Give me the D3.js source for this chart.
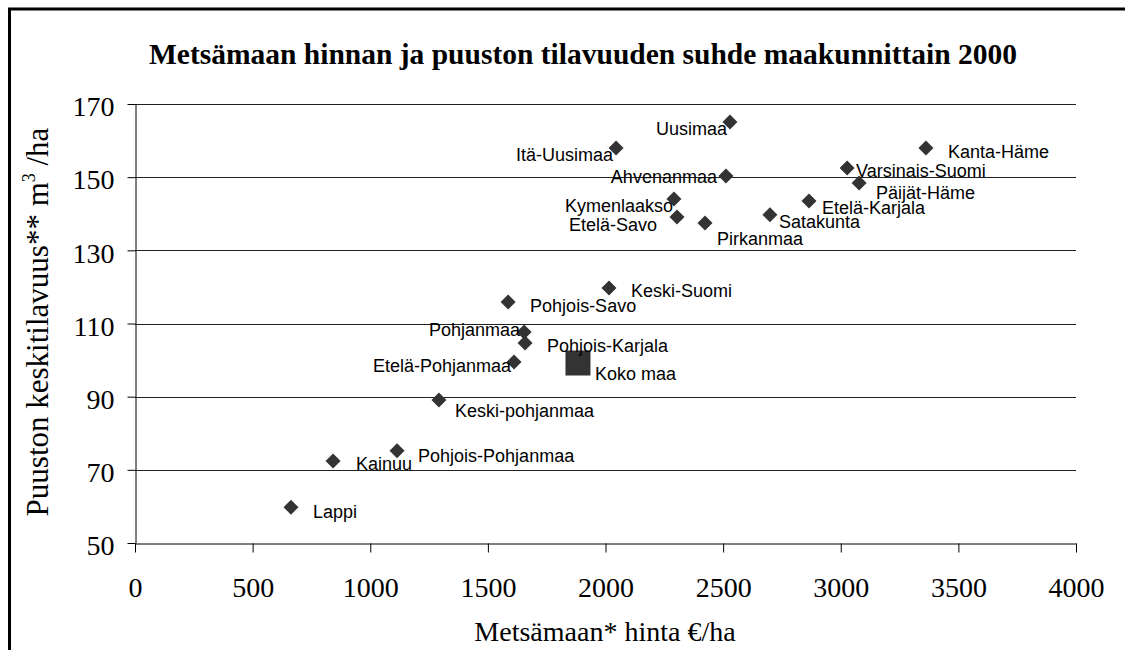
<!DOCTYPE html>
<html>
<head>
<meta charset="utf-8">
<title>Metsämaan hinta ja puuston tilavuus</title>
<script src="https://d3js.org/d3.v7.min.js"></script>
<style>
  body { margin: 0; background: #fff; }
  svg { display: block; }
</style>
</head>
<body>
<script>
// maakunnat, hinta €/ha ja puuston keskitilavuus m3/ha
var regions = ["Uusimaa", "Itä-Uusimaa", "Ahvenanmaa", "Kymenlaakso", "Etelä-Savo", "Pirkanmaa",
  "Satakunta", "Etelä-Karjala", "Varsinais-Suomi", "Päijät-Häme", "Kanta-Häme", "Keski-Suomi",
  "Pohjois-Savo", "Pohjanmaa", "Pohjois-Karjala", "Etelä-Pohjanmaa", "Keski-pohjanmaa",
  "Pohjois-Pohjanmaa", "Kainuu", "Lappi"];
var price = [2529, 2045, 2512, 2291, 2304, 2423, 2699, 2865, 3027, 3078, 3362, 2015,
  1586, 1654, 1658, 1611, 1292, 1114, 842, 663];
var volume = [165.1, 158.0, 150.3, 144.0, 139.1, 137.5, 139.7, 143.5, 152.5, 148.4, 158.0, 119.7,
  115.9, 107.7, 104.7, 99.5, 89.1, 75.2, 72.4, 59.8];
// label offset from the point [dx, dy, anchor]
var labelPos = [[-3, 13, "end"], [-3, 13, "end"], [-9, 7, "end"], [-1, 13, "end"], [-20, 14, "end"],
  [12, 22, "start"], [9, 13, "start"], [13, 13, "start"], [9, 9, "start"], [17, 16, "start"],
  [22, 10, "start"], [22, 9, "start"], [22, 10, "start"], [-4, 4, "end"], [22, 9, "start"],
  [-3, 10, "end"], [16, 17, "start"], [21, 11, "start"], [23, 9, "start"], [22, 11, "start"]];

var wholeCountry = {name: "Koko maa", price: 1883, volume: 99.2};

var xTicks = [0, 500, 1000, 1500, 2000, 2500, 3000, 3500, 4000];
var yTicks = [50, 70, 90, 110, 130, 150, 170];

var width = 1125, height = 650;
var svg = d3.select("body").append("svg")
  .attr("width", width)
  .attr("height", height);

// kehys
svg.append("line").attr("x1", 8).attr("x2", width).attr("y1", 9).attr("y2", 9)
  .attr("stroke", "#000").attr("stroke-width", 3);
svg.append("line").attr("x1", 9.5).attr("x2", 9.5).attr("y1", 8).attr("y2", height)
  .attr("stroke", "#000").attr("stroke-width", 3);

var x = d3.scaleLinear().domain([0, 4000]).range([135, 1076]);
var y = d3.scaleLinear().domain([50, 170]).range([543, 104]);

// ruudukko
svg.append("g").selectAll("line")
  .data(yTicks.slice(1))
  .enter().append("line")
  .attr("x1", 135).attr("x2", 1076)
  .attr("y1", function(d) { return Math.round(y(d)) + 0.5; })
  .attr("y2", function(d) { return Math.round(y(d)) + 0.5; })
  .attr("stroke", "#222").attr("stroke-width", 1);

var xAxis = svg.append("g")
  .attr("transform", "translate(0,543.5)")
  .call(d3.axisBottom(x).tickValues(xTicks).tickFormat(d3.format("d"))
    .tickSize(9).tickPadding(25).tickSizeOuter(0));
var yAxis = svg.append("g")
  .attr("transform", "translate(135.5,0)")
  .call(d3.axisLeft(y).tickValues(yTicks).tickFormat(d3.format("d"))
    .tickSize(8).tickPadding(13).tickSizeOuter(0));

[xAxis, yAxis].forEach(function(ax) {
  ax.select(".domain").attr("stroke", "#000");
  ax.selectAll(".tick line").attr("stroke", "#000");
  ax.selectAll(".tick text")
    .attr("font-family", "'Liberation Serif', 'Times New Roman', serif")
    .attr("font-size", 28)
    .attr("fill", "#000");
});
yAxis.selectAll(".tick text").attr("dy", "0.42em");

// otsikot
svg.append("text")
  .attr("x", 583).attr("y", 64)
  .attr("text-anchor", "middle")
  .attr("font-family", "'Liberation Serif', 'Times New Roman', serif")
  .attr("font-weight", "bold")
  .attr("font-size", 29.5)
  .text("Metsämaan hinnan ja puuston tilavuuden suhde maakunnittain 2000");

svg.append("text")
  .attr("x", 605).attr("y", 641)
  .attr("text-anchor", "middle")
  .attr("font-family", "'Liberation Serif', 'Times New Roman', serif")
  .attr("font-size", 28)
  .text("Metsämaan* hinta €/ha");

var yTitle = svg.append("text")
  .attr("transform", "translate(48,322) rotate(-90)")
  .attr("text-anchor", "middle")
  .attr("font-family", "'Liberation Serif', 'Times New Roman', serif")
  .attr("font-size", 31);
yTitle.append("tspan").text("Puuston keskitilavuus** m");
yTitle.append("tspan").attr("font-size", 18).attr("dy", -13).text("3");
yTitle.append("tspan").attr("dy", 13).text(" /ha");

// pisteet
var pts = regions.map(function(r, i) {
  return {name: r, price: price[i], volume: volume[i], pos: labelPos[i]};
});

var diamond = "M0,-7.5L7.5,0L0,7.5L-7.5,0Z";
svg.append("g").selectAll("path")
  .data(pts)
  .enter().append("path")
  .attr("d", diamond)
  .attr("transform", function(d) { return "translate(" + x(d.price) + "," + y(d.volume) + ")"; })
  .attr("fill", "#333");

svg.append("rect")
  .attr("x", x(wholeCountry.price) - 12.5)
  .attr("y", y(wholeCountry.volume) - 12.5)
  .attr("width", 25).attr("height", 25)
  .attr("fill", "#333");

var labelFont = "'Liberation Sans', Arial, sans-serif";
svg.append("g").selectAll("text")
  .data(pts)
  .enter().append("text")
  .attr("x", function(d) { return x(d.price) + d.pos[0]; })
  .attr("y", function(d) { return y(d.volume) + d.pos[1]; })
  .attr("text-anchor", function(d) { return d.pos[2]; })
  .attr("font-family", labelFont)
  .attr("font-size", 18)
  .attr("fill", "#000")
  .text(function(d) { return d.name; });

svg.append("text")
  .attr("x", x(wholeCountry.price) + 17)
  .attr("y", y(wholeCountry.volume) + 17)
  .attr("font-family", labelFont)
  .attr("font-size", 18)
  .text(wholeCountry.name);
</script>
</body>
</html>
